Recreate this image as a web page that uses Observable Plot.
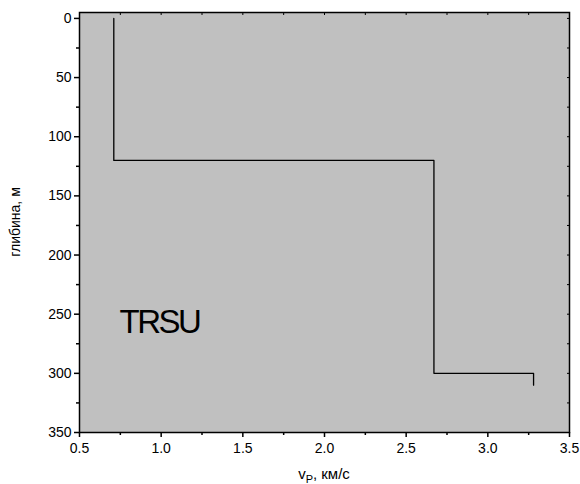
<!DOCTYPE html>
<html>
<head>
<meta charset="utf-8">
<script src="https://cdn.jsdelivr.net/npm/d3@7"></script>
<script src="https://cdn.jsdelivr.net/npm/@observablehq/plot@0.6"></script>
<style>
  body { margin: 0; background: #fff; }
  svg { font-family: "Liberation Sans", Arial, sans-serif; }
</style>
</head>
<body>
<div id="chart"></div>
<script>
// Layer velocities (km/s) and layer top depths (m)
const velocities = [0.71, 2.67, 3.28];
const layerTops = [0, 120, 300];
const bottomDepth = 310;

const xTicks = [0.5, 1.0, 1.5, 2.0, 2.5, 3.0, 3.5];
const xMinorTicks = [0.75, 1.25, 1.75, 2.25, 2.75, 3.25];
const yTicks = [0, 50, 100, 150, 200, 250, 300, 350];
const yMinorTicks = [25, 75, 125, 175, 225, 275, 325];
const siteLabel = "TRSU";
const yLabel = "глибина, м";

// Build step profile vertices
const profile = [];
velocities.forEach((v, i) => {
  const top = layerTops[i];
  const bot = i + 1 < layerTops.length ? layerTops[i + 1] : bottomDepth;
  profile.push({v, d: top});
  profile.push({v, d: bot});
});

const font = "Liberation Sans, Arial, sans-serif";
const allY = [...yTicks, ...yMinorTicks];
const allX = [...xTicks, ...xMinorTicks];

const chart = Plot.plot({
  width: 580,
  height: 484,
  marginLeft: 79,
  marginRight: 11,
  marginTop: 12,
  marginBottom: 52,
  style: {fontFamily: font, fontSize: "14px", color: "#000", background: "#fff"},
  x: {domain: [0.5, 3.5]},
  y: {domain: [-5, 350], reverse: true},
  marks: [
    Plot.frame({fill: "#c0c0c0", stroke: null}),
    Plot.axisY(yTicks, {anchor: "left", tickSize: 5, tickPadding: 3, tickFormat: d => String(d), label: null, strokeWidth: 1.5, fontSize: 14}),
    Plot.axisY(yMinorTicks, {anchor: "left", tickSize: 3, tickFormat: () => "", label: null, strokeWidth: 1.5}),
    Plot.axisY(allY, {anchor: "right", tickSize: -3, tickFormat: () => "", label: null, strokeWidth: 1}),
    Plot.axisX(xTicks, {anchor: "bottom", tickSize: 5, tickPadding: 6, tickFormat: d3.format(".1f"), label: null, strokeWidth: 1.5, fontSize: 14}),
    Plot.axisX(xMinorTicks, {anchor: "bottom", tickSize: 3, tickFormat: () => "", label: null, strokeWidth: 1.5}),
    Plot.axisX(allX, {anchor: "top", tickSize: -2, tickFormat: () => "", label: null, strokeWidth: 1}),
    Plot.frame({stroke: "#000", strokeWidth: 1.5}),
    Plot.line(profile, {x: "v", y: "d", stroke: "#000", strokeWidth: 1.3}),
    Plot.text([siteLabel], {x: 0.745, y: 257, text: d => d, textAnchor: "start", fontSize: 33, fill: "#000"})
  ]
});

document.getElementById("chart").appendChild(chart);

const svg = d3.select(chart);
svg.selectAll("text").filter(function() { return this.textContent === siteLabel; })
  .style("letter-spacing", "-2.5px");

svg.append("text")
  .attr("transform", "translate(16,222) rotate(-90)")
  .attr("text-anchor", "middle")
  .attr("dominant-baseline", "middle")
  .attr("font-size", 14)
  .attr("fill", "#000")
  .text(yLabel);

const xl = svg.append("text")
  .attr("x", 324)
  .attr("y", 479)
  .attr("text-anchor", "middle")
  .attr("font-size", 15)
  .attr("fill", "#000");
xl.append("tspan").text("v");
xl.append("tspan").attr("font-size", 11).attr("dy", 4).text("P");
xl.append("tspan").attr("dy", -4).text(", км/с");
</script>
</body>
</html>
